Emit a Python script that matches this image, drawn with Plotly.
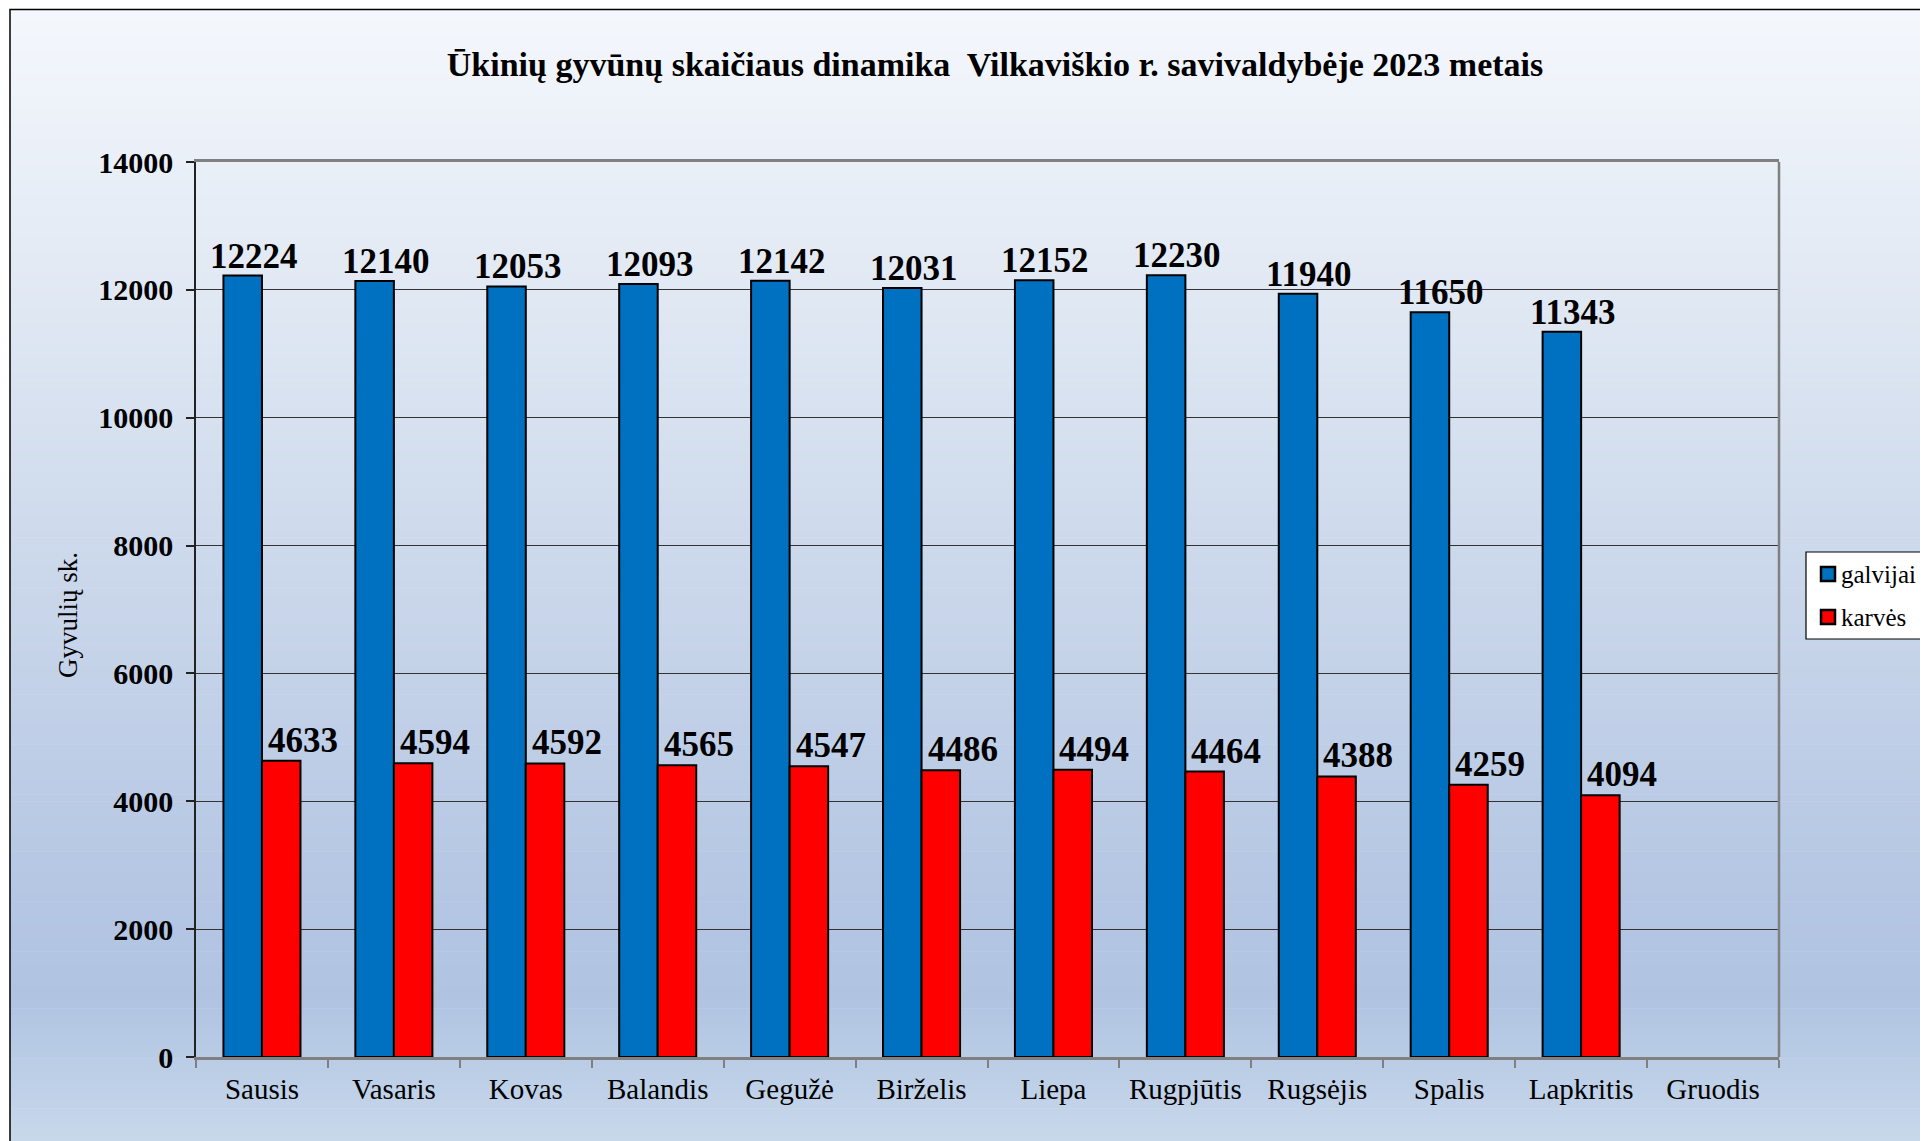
import numpy as np
import plotly.graph_objects as go

# ---- data ----
months = ["Sausis", "Vasaris", "Kovas", "Balandis", "Gegužė", "Birželis",
          "Liepa", "Rugpjūtis", "Rugsėjis", "Spalis", "Lapkritis", "Gruodis"]
galvijai = [12224, 12140, 12053, 12093, 12142, 12031, 12152, 12230, 11940, 11650, 11343, None]
karves = [4633, 4594, 4592, 4565, 4547, 4486, 4494, 4464, 4388, 4259, 4094, None]
y_ticks = [0, 2000, 4000, 6000, 8000, 10000, 12000, 14000]
series_names = ["galvijai", "karvės"]
series_colors = ["#0070C0", "#FF0000"]

title = "Ūkinių gyvūnų skaičiaus dinamika  Vilkaviškio r. savivaldybėje 2023 metais"
y_title = "Gyvulių sk."

# ---- geometry (screen pixels; page body has an 8px margin) ----
OFF = 8
W, H = 1928, 1141
L, R, T, B = 196 - OFF, 1779 - OFF, 162 - OFF, 1057 - OFF
PW, PH = R - L, B - T


def px2x(px):
    return (px - OFF - L) / PW


def py2y(py):
    return (B - (py - OFF)) / PH


FONT = "Liberation Serif"

fig = go.Figure()
for name, vals, col in zip(series_names, [galvijai, karves], series_colors):
    fig.add_trace(go.Bar(name=name, x=months, y=vals, showlegend=False,
                         marker=dict(color=col, line=dict(color="black", width=2))))

# value labels
annotations = []
for m, v in zip(months, galvijai):
    if v is not None:
        annotations.append(dict(x=m, y=v, xref="x", yref="y", text=f"<b>{v}</b>",
                                showarrow=False, xshift=-8, yshift=-2, yanchor="bottom",
                                font=dict(family=FONT, size=35, color="black")))
for m, v in zip(months, karves):
    if v is not None:
        annotations.append(dict(x=m, y=v, xref="x", yref="y", text=f"<b>{v}</b>",
                                showarrow=False, xshift=41, yshift=-1, yanchor="bottom",
                                font=dict(family=FONT, size=35, color="black")))

# y-axis title
annotations.append(dict(x=px2x(68), y=py2y(615), xref="paper", yref="paper",
                        xanchor="center", yanchor="middle",
                        text=y_title, showarrow=False, textangle=-90,
                        font=dict(family=FONT, size=27, color="black")))

# background gradient bands
stops_y = [0, 300, 600, 900, 1000, 1141]
stops_c = [(245, 248, 253), (224, 232, 243), (201, 214, 234), (180, 198, 227),
           (176, 196, 226), (200, 216, 235)]
shapes = []
n = 160
edges = np.linspace(9, H + 10, n + 1)
for i in range(n):
    y0, y1 = edges[i], edges[i + 1]
    ym = (y0 + y1) / 2
    c = [np.interp(ym, stops_y, [s[k] for s in stops_c]) for k in range(3)]
    col = "rgb(%d,%d,%d)" % tuple(int(round(v)) for v in c)
    shapes.append(dict(type="rect", xref="paper", yref="paper", layer="below",
                       x0=px2x(10), x1=px2x(W + 20), y0=py2y(y1 + 0.6), y1=py2y(y0),
                       fillcolor=col, line=dict(width=0)))
# outer frame
shapes.append(dict(type="rect", xref="paper", yref="paper", layer="below",
                   x0=px2x(10), x1=px2x(W + 30), y0=py2y(H + 30), y1=py2y(9.5),
                   fillcolor="rgba(0,0,0,0)", line=dict(color="black", width=1.5)))
# right border of plot area
shapes.append(dict(type="line", xref="paper", yref="paper", x0=1, x1=1, y0=0, y1=1,
                   line=dict(color="#808080", width=2.5)))

# legend box (drawn by hand to match the original's spacing)
shapes.append(dict(type="rect", xref="paper", yref="paper", layer="above",
                   x0=px2x(1806), x1=px2x(W + 30), y0=py2y(639), y1=py2y(552),
                   fillcolor="white", line=dict(color="black", width=1.2)))
for i, (name, col) in enumerate(zip(series_names, series_colors)):
    cy = 574 + i * 43
    shapes.append(dict(type="rect", xref="paper", yref="paper", layer="above",
                       x0=px2x(1821), x1=px2x(1835), y0=py2y(cy + 7), y1=py2y(cy - 7),
                       fillcolor=col, line=dict(color="black", width=2.5)))
    annotations.append(dict(x=px2x(1839), y=py2y(cy), xref="paper", yref="paper",
                            xanchor="left", yanchor="middle", text=name, showarrow=False,
                            font=dict(family=FONT, size=25, color="black")))

fig.update_layout(
    width=W, height=H,
    margin=dict(l=L, r=W - R, t=T, b=H - B, pad=0, autoexpand=False),
    paper_bgcolor="white",
    plot_bgcolor="rgba(0,0,0,0)",
    barmode="group", bargap=0.416, bargroupgap=0,
    showlegend=False,
    title=dict(text=f"<b>{title}</b>", x=(995 - OFF) / W, xanchor="center",
               y=1 - (64 - OFF) / H, yanchor="middle",
               font=dict(family=FONT, size=34, color="black")),
    font=dict(family=FONT, color="black"),
    annotations=annotations,
    shapes=shapes,
)
fig.update_xaxes(type="category", categoryorder="array", categoryarray=months,
                 showline=True, linecolor="#808080", linewidth=2.5, mirror=True,
                 ticks="outside", tickson="boundaries", ticklen=8, tickcolor="#808080",
                 tickwidth=1.5, showgrid=False,
                 tickfont=dict(family=FONT, size=29, color="black"),
                 ticklabelstandoff=4)
fig.update_yaxes(range=[0, 14000], tickvals=y_ticks, ticktext=[f"<b>{v}</b>" for v in y_ticks],
                 showline=True, linecolor="#222222", linewidth=1.5,
                 ticks="outside", ticklen=8, tickcolor="#222222", tickwidth=1.5,
                 showgrid=True, gridcolor="#333333", gridwidth=1, zeroline=False,
                 tickfont=dict(family=FONT, size=30, color="black"),
                 ticklabelstandoff=7)

fig.write_html("out.html")
